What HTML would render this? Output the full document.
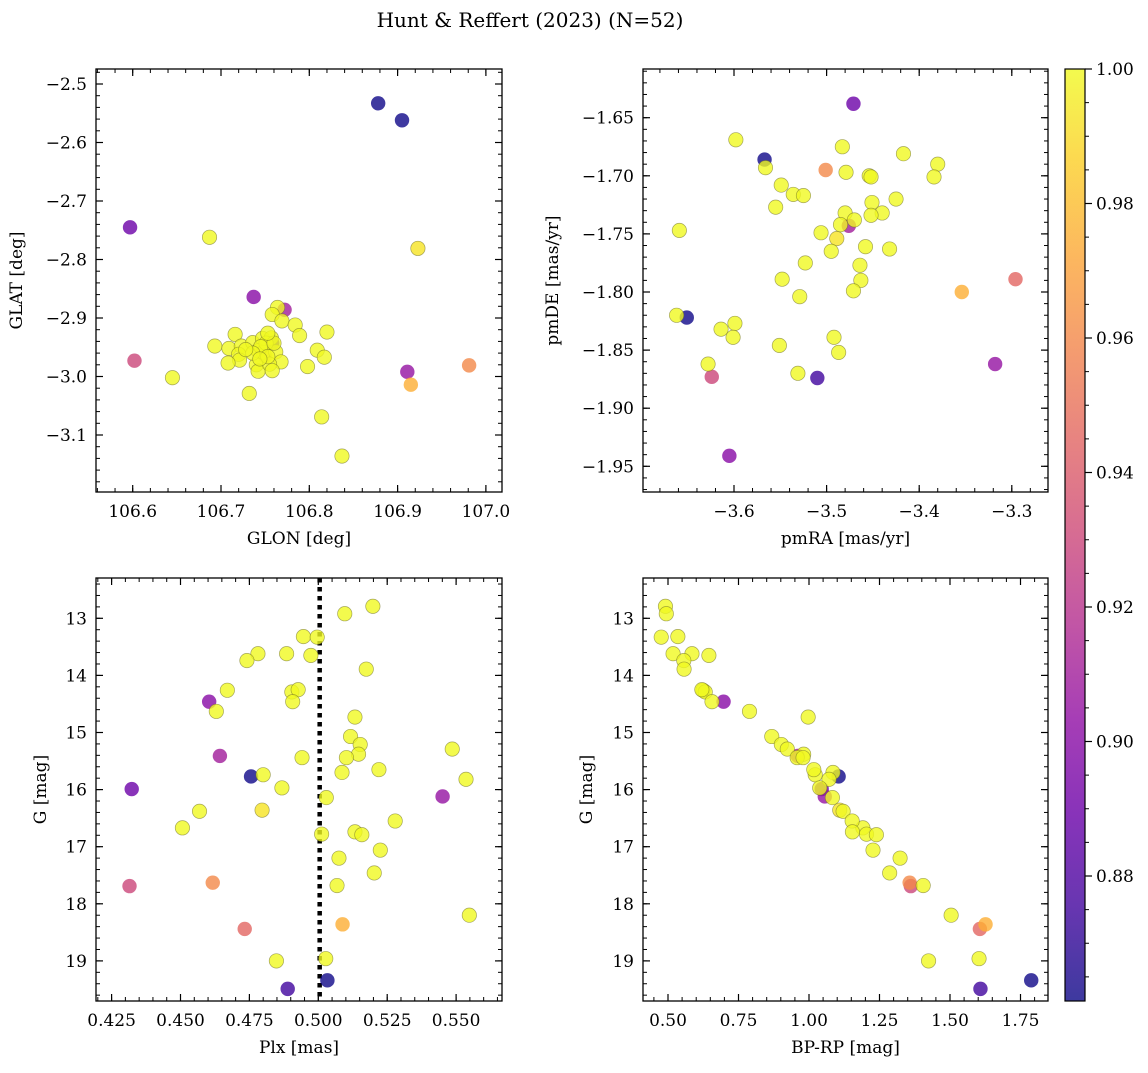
<!DOCTYPE html>
<html><head><meta charset="utf-8">
<style>
html,body{margin:0;padding:0;background:#fff;}
svg text{font-family:"DejaVu Serif","Liberation Serif",serif;fill:#000;}
</style></head>
<body>
<svg id="fig" width="1148" height="1068" viewBox="0 0 1148 1068" xmlns="http://www.w3.org/2000/svg">
<text x="530" y="27" font-size="20" text-anchor="middle">Hunt &amp; Reffert (2023) (N=52)</text>
</svg>
<script>
// star data (one entry per cluster member)
const glon = [106.878,106.905,106.758,106.597,106.737,106.911,106.772,106.602,106.750,106.981,106.915,106.923,
106.687,106.645,106.732,106.814,106.837,106.764,106.758,106.769,106.784,106.789,106.820,106.716,106.693,106.709,106.723,106.720,106.721,106.708,106.736,106.747,106.757,106.742,106.748,106.762,106.768,106.740,106.742,106.755,106.758,106.809,106.817,106.798,106.751,106.745,106.753,106.736,106.728,106.760,106.753,106.744];
const glat = [-2.533,-2.562,-2.943,-2.745,-2.864,-2.992,-2.886,-2.973,-2.965,-2.981,-3.014,-2.781,
-2.762,-3.002,-3.029,-3.069,-3.136,-2.882,-2.894,-2.905,-2.912,-2.930,-2.924,-2.928,-2.948,-2.952,-2.948,-2.962,-2.972,-2.977,-2.942,-2.935,-2.934,-2.956,-2.959,-2.958,-2.975,-2.980,-2.991,-2.979,-2.990,-2.955,-2.967,-2.983,-2.943,-2.949,-2.966,-2.960,-2.954,-2.943,-2.926,-2.970];
const pmra = [-3.567,-3.651,-3.510,-3.471,-3.605,-3.318,-3.476,-3.624,-3.296,-3.501,-3.354,-3.489,
-3.598,-3.566,-3.483,-3.479,-3.417,-3.380,-3.384,-3.454,-3.452,-3.549,-3.536,-3.525,-3.555,-3.659,-3.451,-3.425,-3.440,-3.452,-3.480,-3.470,-3.485,-3.506,-3.495,-3.458,-3.432,-3.523,-3.464,-3.463,-3.548,-3.471,-3.529,-3.662,-3.599,-3.614,-3.601,-3.551,-3.492,-3.487,-3.628,-3.531];
const pmde = [-1.686,-1.822,-1.874,-1.638,-1.941,-1.862,-1.743,-1.873,-1.789,-1.695,-1.800,-1.754,
-1.669,-1.693,-1.675,-1.697,-1.681,-1.690,-1.701,-1.700,-1.701,-1.708,-1.716,-1.717,-1.727,-1.747,-1.723,-1.720,-1.732,-1.734,-1.732,-1.738,-1.742,-1.749,-1.765,-1.761,-1.763,-1.775,-1.777,-1.790,-1.789,-1.799,-1.804,-1.820,-1.827,-1.832,-1.839,-1.846,-1.839,-1.852,-1.862,-1.870];
const plx = [0.4756,0.5033,0.4889,0.4323,0.4604,0.5451,0.4643,0.4315,0.4733,0.4617,0.5088,0.4796,
0.5198,0.5096,0.4946,0.4996,0.4781,0.4885,0.4973,0.4741,0.5174,0.4670,0.4904,0.4927,0.4907,0.4630,0.5133,0.5117,0.5152,0.5486,0.5146,0.5102,0.4941,0.5086,0.4800,0.5220,0.5536,0.4868,0.5029,0.4569,0.4507,0.5279,0.5012,0.5133,0.5158,0.5225,0.5075,0.5203,0.5068,0.5548,0.4848,0.5027];
const gmag = [15.77,19.34,19.49,15.99,14.46,16.12,15.41,17.69,18.44,17.63,18.36,16.36,
12.79,12.92,13.32,13.33,13.62,13.62,13.65,13.74,13.89,14.26,14.29,14.25,14.46,14.63,14.73,15.07,15.21,15.29,15.38,15.44,15.44,15.70,15.74,15.65,15.82,15.97,16.14,16.38,16.67,16.55,16.78,16.74,16.79,17.06,17.20,17.46,17.68,18.20,19.00,18.96];
const bprp = [1.105,1.788,1.608,1.045,0.697,1.056,0.960,1.361,1.606,1.357,1.626,1.109,
0.491,0.494,0.535,0.476,0.518,0.585,0.645,0.556,0.557,0.624,0.632,0.620,0.656,0.789,0.997,0.868,0.902,0.923,0.981,0.958,0.979,1.085,1.022,1.017,1.071,1.038,1.083,1.121,1.191,1.153,1.204,1.154,1.239,1.227,1.323,1.286,1.405,1.504,1.424,1.603];
const prob = [0.862,0.862,0.875,0.89,0.90,0.905,0.91,0.93,0.945,0.96,0.975,0.993,
1,1,1,1,1,1,1,1,1,1,1,1,1,1,1,1,1,1,1,1,1,1,1,1,1,1,1,1,1,1,1,1,1,1,1,1,1,1,1,1];
const plxRef = 0.5005;
// tick labels
const ticksGlon = [106.6,106.7,106.8,106.9,107.0];
const ticksGlat = [-2.5,-2.6,-2.7,-2.8,-2.9,-3.0,-3.1];
const ticksPmra = [-3.6,-3.5,-3.4,-3.3];
const ticksPmde = [-1.65,-1.70,-1.75,-1.80,-1.85,-1.90,-1.95];
const ticksPlx = [0.425,0.450,0.475,0.500,0.525,0.550];
const ticksG = [13,14,15,16,17,18,19];
const ticksBprp = [0.50,0.75,1.00,1.25,1.50,1.75];
const ticksCbar = [1.00,0.98,0.96,0.94,0.92,0.90,0.88];

const NS='http://www.w3.org/2000/svg';
const svg=document.getElementById('fig');
function mk(tag,attrs,parent){const e=document.createElementNS(NS,tag);for(const k in attrs)e.setAttribute(k,attrs[k]);(parent||svg).appendChild(e);return e;}
function lin(v0,p0,v1,p1){return v=>p0+(v-v0)*(p1-p0)/(v1-v0);}
const plasma=[[13,8,135],[65,4,157],[106,0,168],[143,13,164],[177,42,144],[204,71,120],[225,100,98],[242,132,75],[252,166,54],[252,206,37],[240,249,33]];
const cmin=0.8614,cmax=1.0;
function cmap(v){let t=(v-cmin)/(cmax-cmin);t=Math.max(0,Math.min(1,t))*10;const i=Math.min(9,Math.floor(t)),f=t-i;const a=plasma[i],b=plasma[i+1];
return 'rgb('+a.map((c,k)=>Math.round(c+(b[k]-c)*f)).join(',')+')';}
function fmt(v,d){return (v<0?'\u2212':'')+Math.abs(v).toFixed(d);}

function panel(o){
  const g=mk('g',{});
  
  
  const L=o.box[0],R=o.box[1],T=o.box[2],B=o.box[3];
  const xa=o.xinv(L),xb=o.xinv(R);
  for(let k=Math.floor(Math.min(xa,xb)/o.xminor);k*o.xminor<=Math.max(xa,xb);k++){const v=k*o.xminor;const p=o.sx(v);if(p<L+0.5||p>R-0.5)continue;
    mk('line',{x1:p,x2:p,y1:B,y2:B-4,stroke:'#000','stroke-width':1},g);mk('line',{x1:p,x2:p,y1:T,y2:T+4,stroke:'#000','stroke-width':1},g);}
  const ya=o.yinv(B),yb=o.yinv(T);
  for(let k=Math.floor(Math.min(ya,yb)/o.yminor);k*o.yminor<=Math.max(ya,yb);k++){const v=k*o.yminor;const p=o.sy(v);if(p<T+0.5||p>B-0.5)continue;
    mk('line',{x1:L,x2:L+4,y1:p,y2:p,stroke:'#000','stroke-width':1},g);mk('line',{x1:R,x2:R-4,y1:p,y2:p,stroke:'#000','stroke-width':1},g);}
  o.xt.forEach(v=>{const p=o.sx(v);
    mk('line',{x1:p,x2:p,y1:B,y2:B-7,stroke:'#000','stroke-width':1.2},g);mk('line',{x1:p,x2:p,y1:T,y2:T+7,stroke:'#000','stroke-width':1.2},g);
    const t=mk('text',{x:p,y:B+25,'font-size':17,'text-anchor':'middle'},g);t.textContent=fmt(v,o.xd);
    
    });
  o.yt.forEach(v=>{const p=o.sy(v);
    mk('line',{x1:L,x2:L+7,y1:p,y2:p,stroke:'#000','stroke-width':1.2},g);mk('line',{x1:R,x2:R-7,y1:p,y2:p,stroke:'#000','stroke-width':1.2},g);
    const t=mk('text',{x:L-9,y:p+6,'font-size':17,'text-anchor':'end'},g);t.textContent=fmt(v,o.yd);
    
    });
  if(o.extra)o.extra(g);
  const idx=prob.map((p,i)=>i).sort((a,b)=>prob[a]-prob[b]);
  idx.forEach(i=>{const c=mk('circle',{cx:o.sx(o.X[i]),cy:o.sy(o.Y[i]),r:7.2,fill:cmap(prob[i]),'fill-opacity':0.8,stroke:prob[i]>0.98?'rgba(110,110,40,0.6)':'none','stroke-width':0.7},g);
    
    });
  mk('rect',{x:L,y:T,width:R-L,height:B-T,fill:'none',stroke:'#000','stroke-width':1.3},g);
  const xl=mk('text',{x:(L+R)/2,y:B+52,'font-size':17,'text-anchor':'middle'},g);xl.textContent=o.xlabel;
  
  
  const yl=mk('text',{x:0,y:0,'font-size':17,'text-anchor':'middle',transform:'translate('+o.ylx+','+((T+B)/2)+') rotate(-90)'},g);yl.textContent=o.ylabel;
  
  
}
function inv(f){const a=f(0),b=f(1);return p=>(p-a)/(b-a);}

const rowTop=[69,492],rowBot=[578,1001];
let sx,sy;
sx=lin(106.6,132.7,106.7,221.0);sy=lin(-2.5,84.0,-2.6,142.5);
panel({name:'panel-glon-glat',box:[96,502,rowTop[0],rowTop[1]],sx,sy,xinv:inv(sx),yinv:inv(sy),X:glon,Y:glat,xt:ticksGlon,yt:ticksGlat,xd:1,yd:1,xminor:0.02,yminor:0.02,xlabel:'GLON [deg]',ylabel:'GLAT [deg]',ylx:22});
sx=lin(-3.6,734.0,-3.5,826.6);sy=lin(-1.65,117.7,-1.70,175.8);
panel({name:'panel-pm',box:[643,1048,rowTop[0],rowTop[1]],sx,sy,xinv:inv(sx),yinv:inv(sy),X:pmra,Y:pmde,xt:ticksPmra,yt:ticksPmde,xd:1,yd:2,xminor:0.02,yminor:0.01,xlabel:'pmRA [mas/yr]',ylabel:'pmDE [mas/yr]',ylx:558});
sx=lin(0.5,318.3,0.525,387.2);sy=lin(13,618.3,14,675.4);
const sxPlx=sx;
panel({name:'panel-plx-g',box:[96,502,rowBot[0],rowBot[1]],sx,sy,xinv:inv(sx),yinv:inv(sy),X:plx,Y:gmag,xt:ticksPlx,yt:ticksG,xd:3,yd:0,xminor:0.005,yminor:0.2,xlabel:'Plx [mas]',ylabel:'G [mag]',ylx:46,
  extra:g=>{const p=sxPlx(plxRef);const l=mk('line',{x1:p,x2:p,y1:rowBot[0],y2:rowBot[1],stroke:'#000','stroke-width':4.5,'stroke-dasharray':'4.5,4.5'},g);
    
    }});
sx=lin(0.5,668.0,0.75,738.5);
panel({name:'panel-cmd',box:[643,1048,rowBot[0],rowBot[1]],sx,sy,xinv:inv(sx),yinv:inv(sy),X:bprp,Y:gmag,xt:ticksBprp,yt:ticksG,xd:2,yd:0,xminor:0.05,yminor:0.2,xlabel:'BP-RP [mag]',ylabel:'G [mag]',ylx:592});

// colorbar
const cb=mk('g',{});


const defs=mk('defs',{},cb);
const gr=mk('linearGradient',{id:'cbg',x1:0,y1:1,x2:0,y2:0},defs);
for(let k=0;k<=10;k++){mk('stop',{offset:k/10,'stop-color':'rgb('+plasma[k].join(',')+')','stop-opacity':0.8},gr);}
const cy=lin(1.0,69,0.98,203.5);
mk('rect',{x:1065,y:69,width:20,height:932,fill:'url(#cbg)',stroke:'#000','stroke-width':1.2},cb);
for(let k=173;k<=200;k++){const p=cy(k*0.005);if(p<69||p>1001)continue;mk('line',{x1:1085,x2:1089,y1:p,y2:p,stroke:'#000','stroke-width':1},cb);}
ticksCbar.forEach(v=>{const p=cy(v);mk('line',{x1:1085,x2:1092,y1:p,y2:p,stroke:'#000','stroke-width':1.2},cb);
  const t=mk('text',{x:1096,y:p+6,'font-size':17},cb);t.textContent=v.toFixed(2);
  
  });
</script>
</body></html>
